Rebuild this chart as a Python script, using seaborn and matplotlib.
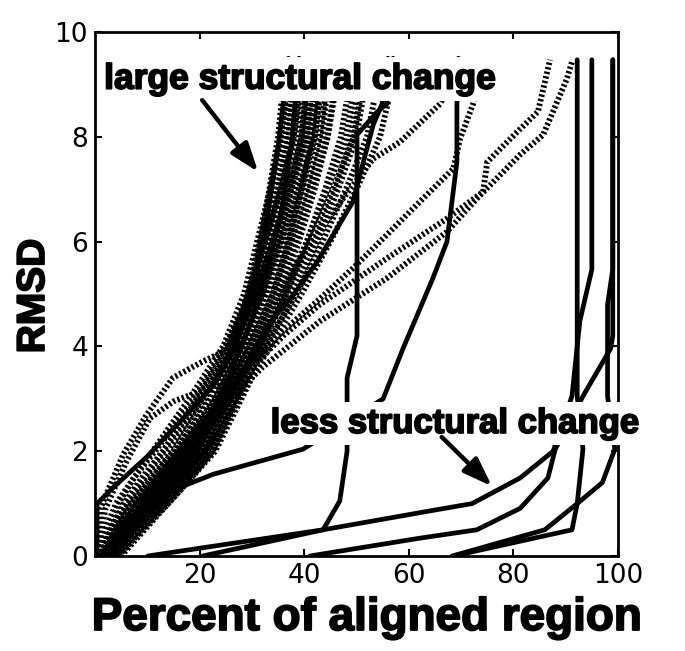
import matplotlib
matplotlib.use("Agg")
import matplotlib.pyplot as plt
import matplotlib.patheffects as pe
import pandas as pd
import seaborn as sns

sns.set_theme(style="ticks")
plt.rcParams["font.family"] = ["DejaVu Sans"]

# ---- data: percent of aligned region reached at each RMSD ----
bundle_rmsd = [0, 0.5, 1, 1.5, 2, 3, 4, 5, 6, 7, 8, 9.5]

# dotted curves of the main (large structural change) bundle, x at bundle_rmsd
dotted_bundle_x = [
    [0.5, 2.5, 4.5, 7.5, 11.0, 18.0, 24.5, 28.5, 31.0, 33.5, 35.5, 37.0],
    [1.0, 3.5, 6.0, 9.5, 13.0, 19.5, 25.5, 29.5, 32.0, 34.5, 36.5, 38.0],
    [1.5, 4.0, 7.0, 11.0, 15.0, 21.0, 26.5, 30.5, 33.0, 35.0, 37.0, 38.5],
    [2.0, 5.0, 8.5, 12.5, 16.5, 22.0, 27.0, 31.0, 33.5, 36.0, 38.0, 39.5],
    [2.5, 5.5, 9.0, 13.5, 17.5, 23.0, 28.0, 31.5, 34.5, 37.0, 39.0, 40.5],
    [3.0, 6.0, 10.0, 14.5, 18.5, 23.5, 28.5, 32.5, 35.5, 38.0, 40.0, 41.5],
    [3.5, 7.0, 11.0, 15.5, 19.5, 24.5, 29.0, 33.0, 36.0, 38.5, 41.0, 42.5],
    [4.0, 7.5, 12.0, 16.5, 20.5, 25.0, 29.5, 34.0, 37.0, 39.5, 42.0, 43.5],
    [4.5, 8.5, 13.0, 17.5, 21.5, 26.0, 30.5, 34.5, 38.0, 41.0, 43.5, 45.0],
    [5.0, 9.5, 14.0, 18.5, 22.5, 27.0, 31.5, 35.5, 39.0, 42.0, 44.5, 46.5],
    [2.0, 5.0, 9.5, 14.5, 18.5, 25.0, 29.0, 31.5, 34.0, 35.5, 37.0, 38.0],
    [1.0, 4.5, 8.0, 12.5, 16.5, 23.5, 28.0, 30.5, 33.0, 35.0, 36.5, 37.5],
    [3.0, 6.5, 10.5, 15.5, 20.0, 26.0, 31.0, 35.0, 38.5, 41.5, 44.5, 47.0],
    [4.0, 8.5, 13.5, 18.0, 22.5, 27.5, 32.0, 36.5, 40.5, 44.0, 47.0, 49.5],
    [2.5, 6.0, 10.0, 14.5, 18.5, 24.5, 29.5, 34.0, 37.5, 40.5, 43.0, 45.0],
    [1.5, 5.5, 9.5, 14.0, 17.5, 24.0, 28.5, 32.5, 36.5, 39.5, 42.0, 43.5],
    [3.5, 7.5, 12.5, 16.5, 21.0, 27.0, 31.5, 36.0, 40.5, 44.5, 48.0, 50.5],
    [0.5, 3.0, 6.5, 10.5, 14.0, 20.5, 26.0, 30.5, 34.0, 37.5, 40.5, 42.0],
    [2.0, 4.5, 7.5, 11.5, 15.5, 22.0, 27.5, 32.0, 35.5, 39.0, 42.0, 44.0],
    [1.0, 3.0, 5.5, 9.0, 13.0, 20.0, 26.5, 31.0, 34.0, 37.0, 39.5, 41.0],
    [4.5, 9.0, 14.0, 18.5, 23.0, 28.0, 33.0, 38.0, 42.5, 46.5, 50.0, 52.5],
    [3.0, 7.0, 11.5, 16.0, 20.5, 27.0, 32.5, 38.5, 43.5, 48.0, 52.0, 55.0],
    [2.5, 6.5, 11.0, 15.5, 20.0, 26.0, 31.5, 36.5, 41.0, 45.5, 49.5, 52.0],
    [1.5, 4.0, 7.5, 12.0, 16.0, 23.0, 28.0, 32.0, 35.0, 37.5, 39.5, 41.0],
    [3.5, 7.0, 12.0, 17.0, 21.0, 26.5, 30.5, 34.0, 37.0, 39.5, 41.5, 43.0],
    [0.5, 2.0, 4.0, 7.5, 11.5, 19.0, 25.0, 29.5, 32.5, 35.5, 38.0, 40.0],
    [2.0, 6.0, 10.5, 15.0, 19.0, 25.5, 31.0, 37.0, 42.0, 46.0, 49.0, 51.0],
    [4.0, 8.0, 12.5, 17.0, 21.5, 27.5, 33.5, 39.5, 45.0, 50.0, 54.5, 58.0],
]

# dotted curves leaving the bundle on the left
left_a_x = [0, 1, 5.4, 9.9, 14.9, 20, 24.5, 28, 31, 33, 35, 36.5]
left_a_y = [0, 0.9, 1.94, 2.7, 3.4, 3.68, 3.9, 4.6, 5.6, 6.8, 8.0, 9.5]
left_b_x = [0.5, 2, 6, 10.5, 15, 20, 23.3, 27, 30, 33, 35.5, 37.5]
left_b_y = [0, 0.9, 1.8, 2.63, 2.95, 3.14, 3.28, 4.2, 5.3, 6.7, 8.0, 9.5]

# dotted curves leaving the bundle on the right
right_b_x = [3.5, 9, 17, 24, 30, 34, 38, 43, 48, 53.2, 58.3, 66, 68]
right_b_y = [0, 1, 2, 3, 4, 4.8, 5.5, 6.2, 6.9, 7.58, 7.9, 8.63, 9.0]
right_d_x = [2.5, 8, 16, 24, 30, 36, 43, 49.3, 55.8, 62.1, 68.5, 69.8, 72.3, 74.6]
right_d_y = [0, 1, 2, 3, 3.7, 4.3, 4.91, 5.49, 6.13, 6.76, 7.39, 7.96, 8.63, 9.47]
right_e_x = [3, 9, 17, 25, 31, 36, 43, 55.8, 67.3, 74.2, 75, 81.3, 84.7, 87]
right_e_y = [0, 1, 2, 3, 3.7, 4.2, 4.8, 5.68, 6.44, 6.95, 7.52, 8.15, 8.48, 9.47]
right_f_x = [4, 10, 18, 26, 32, 37, 43, 55.8, 67.3, 73, 81.3, 85.7, 90.2, 91.2]
right_f_y = [0, 1, 2, 3, 3.6, 4.0, 4.48, 5.3, 6.19, 6.82, 7.66, 8.04, 9.1, 9.43]

# solid curves (less structural change)
solid_a_x = [0.4, 0.4, 3.4, 10, 18, 23, 27, 30, 33, 35, 37]
solid_a_y = [0, 1.0, 1.3, 1.9, 2.75, 3.3, 4.0, 5, 6.5, 7.8, 9.5]
solid_b_x = [2, 7, 14, 21, 26, 30, 33, 35.5, 37.5, 39]
solid_b_y = [0, 0.7, 1.5, 2.5, 3.5, 4.5, 5.5, 6.5, 7.8, 9.5]
solid_c_x = [3, 9, 16, 23, 28, 33, 38, 42.4, 49.3, 53.2, 54.9, 56]
solid_c_y = [0, 0.8, 1.6, 2.6, 3.5, 4.4, 5.0, 5.6, 6.76, 8.23, 8.63, 9.5]
mid_1_x = [20.6, 43.6, 46.8, 48.2, 48.2, 50.1, 50.1, 54, 55.8, 57]
mid_1_y = [0, 0.5, 1.05, 2.0, 3.4, 4.2, 8.04, 8.48, 8.63, 9.5]
mid_2_x = [1, 5, 10, 16, 22.6, 39.8, 55.1, 58.9, 64.6, 67.3, 69.2, 69.2, 69.5]
mid_2_y = [0, 0.6, 1.0, 1.3, 1.56, 2.04, 3.0, 3.96, 5.3, 6.0, 7.52, 8.63, 9.5]
right_1_x = [68.5, 91.2, 92.2, 93.3, 92.2, 92.2]
right_1_y = [0, 0.5, 1.0, 2.04, 3.05, 9.47]
right_2_x = [10.1, 43.6, 64, 72.1, 81.3, 87.6, 91.2, 92.7, 95, 95]
right_2_y = [0, 0.5, 0.86, 1.0, 1.49, 2.0, 3.05, 4.48, 5.47, 9.47]
right_3_x = [41.1, 62.1, 73, 81.3, 86.6, 88, 93.3, 98.6, 99.0, 99.0]
right_3_y = [0, 0.34, 0.5, 0.91, 1.49, 2.04, 3.05, 3.96, 4.2, 9.47]
right_4_x = [68.3, 86, 92.2, 97, 99.4, 98, 98, 99, 99]
right_4_y = [0, 0.5, 1.0, 1.4, 2.04, 3.05, 4.8, 5.47, 9.47]

x_ticks = [20, 40, 60, 80, 100]
y_ticks = [0, 2, 4, 6, 8, 10]


def to_long(curves):
    rows = []
    for i, (xs, ys) in enumerate(curves):
        for j, (x, y) in enumerate(zip(xs, ys)):
            rows.append({"curve": i, "order": j, "pct": x, "rmsd": y})
    return pd.DataFrame(rows)


dotted = [(xs, bundle_rmsd) for xs in dotted_bundle_x] + [
    (left_a_x, left_a_y), (left_b_x, left_b_y),
    (right_b_x, right_b_y), (right_d_x, right_d_y),
    (right_e_x, right_e_y), (right_f_x, right_f_y),
]
solid = [
    (solid_a_x, solid_a_y), (solid_b_x, solid_b_y), (solid_c_x, solid_c_y),
    (mid_1_x, mid_1_y), (mid_2_x, mid_2_y),
    (right_1_x, right_1_y), (right_2_x, right_2_y),
    (right_3_x, right_3_y), (right_4_x, right_4_y),
]
dotted_df = to_long(dotted)
solid_df = to_long(solid)

fig = plt.figure(figsize=(6.85, 6.51), dpi=100)
ax = fig.add_axes([95 / 685, 1 - 556 / 651, 523 / 685, 524 / 651])

sns.lineplot(data=dotted_df, x="pct", y="rmsd", units="curve", estimator=None,
             sort=False, color="black", lw=4.2, linestyle=(0, (0.4, 0.4)),
             legend=False, ax=ax)
sns.lineplot(data=solid_df, x="pct", y="rmsd", units="curve", estimator=None,
             sort=False, color="black", lw=3.4, legend=False, ax=ax)

ax.set_xlim(0, 100)
ax.set_ylim(0, 10)
ax.set_xticks(x_ticks)
ax.set_yticks(y_ticks)
ax.set_xlabel(""); ax.set_ylabel("")
ax.tick_params(direction="in", length=5, width=1.5, top=True, right=True,
               labelsize=19, pad=5, colors="black")
for sp in ax.spines.values():
    sp.set_linewidth(2)
    sp.set_color("black")

heavy = [pe.withStroke(linewidth=1.3, foreground="black")]
label_font = dict(family=["Liberation Sans", "DejaVu Sans"], fontweight="bold", color="black")
box = dict(boxstyle="square,pad=0.15", facecolor="white", edgecolor="none")
ax.text(39.2, 9.1, "large structural change", ha="center", va="center",
        fontsize=25.5, bbox=box, zorder=4, path_effects=heavy, **label_font)
ax.text(68.8, 2.53, "less structural change", ha="center", va="center",
        fontsize=25, bbox=box, zorder=4, clip_on=False, path_effects=heavy,
        **label_font)

arrow = dict(arrowstyle="-|>,head_length=0.7,head_width=0.25", color="black",
             lw=3.2, mutation_scale=25, shrinkA=0, shrinkB=0)
ax.annotate("", xy=(31.2, 7.33), xytext=(20.5, 8.7), arrowprops=arrow, zorder=5)
ax.annotate("", xy=(75.9, 1.33), xytext=(66.3, 2.27), arrowprops=arrow, zorder=5)

fig.text(367 / 685, 1 - 630 / 651, "Percent of aligned region", ha="center",
         va="baseline", fontsize=33, path_effects=heavy, **label_font)
fig.text(34 / 685, 1 - 296 / 651, "RMSD", ha="center", va="center",
         rotation=90, fontsize=28, path_effects=heavy, **label_font)

fig.savefig("out.png", dpi=100)
